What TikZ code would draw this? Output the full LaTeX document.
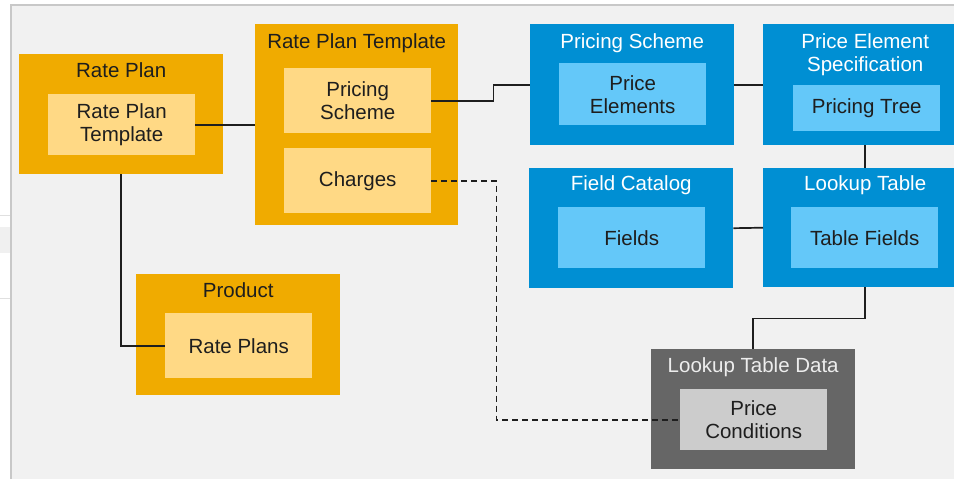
\documentclass[tikz,border=0pt]{standalone}
\usepackage{fontspec}
\setmainfont{Liberation Sans}
\usepackage{xcolor}

\definecolor{gold}{HTML}{F0AB00}
\definecolor{goldlight}{HTML}{FFD985}
\definecolor{sapblue}{HTML}{008FD3}
\definecolor{bluelight}{HTML}{64C8F9}
\definecolor{darkbox}{HTML}{666666}
\definecolor{greylight}{HTML}{CCCCCC}
\definecolor{panelgrey}{HTML}{F1F1F1}
\definecolor{framegrey}{HTML}{C8C8C8}
\definecolor{ink}{HTML}{1E1E1E}

\tikzset{
  outerbox/.style={anchor=north west, inner sep=0pt, minimum width=204pt, minimum height=120pt},
  innerbox/.style={anchor=north west, inner sep=0pt, minimum width=147pt, minimum height=61pt,
    align=center, text=ink},
  boxtitle/.style={anchor=base, inner sep=0pt, align=center},
  conn/.style={draw=ink, line width=1.7pt},
}

\begin{document}
\begin{tikzpicture}[x=1pt,y=-1pt,font=\fontsize{20.5}{23}\selectfont]
  \clip (0,0) rectangle (954,479);
  \fill[white] (0,0) rectangle (954,479);
  \fill[black!6] (0,227) rectangle (11,253);
  \draw[black!12, line width=1pt] (0,215) -- (11,215) (0,298) -- (11,298);
  \fill[panelgrey] (11,5) rectangle (954,479);
  \draw[framegrey, line width=1.5pt] (11,479) -- (11,5) -- (954,5);

  % rate plan side
  \node[outerbox, fill=gold] (rateplan) at (19,54) {};
  \node[boxtitle, text=ink] (rateplanT) at ([yshift=-23pt]rateplan.north) {Rate Plan};
  \node[innerbox, fill=goldlight] (rpTempl) at (48,94) {Rate Plan\\Template};

  \node[outerbox, fill=gold, minimum width=203pt, minimum height=201pt] (rptempl) at (255,24) {};
  \node[boxtitle, text=ink] (rptemplT) at ([yshift=-24pt]rptempl.north) {Rate Plan Template};
  \node[innerbox, fill=goldlight, minimum height=65pt] (pricingScheme) at (284,68) {Pricing\\Scheme};
  \node[innerbox, fill=goldlight, minimum height=65pt] (charges) at (284,148) {Charges};

  \node[outerbox, fill=gold, minimum height=121pt] (product) at (136,274) {};
  \node[boxtitle, text=ink] (productT) at ([yshift=-23pt]product.north) {Product};
  \node[innerbox, fill=goldlight, minimum height=65pt] (ratePlans) at (165,313) {Rate Plans};

  % pricing side
  \node[outerbox, fill=sapblue, minimum height=121pt] (pscheme) at (530,24) {};
  \node[boxtitle, text=white] (pschemeT) at ([yshift=-24pt]pscheme.north) {Pricing Scheme};
  \node[innerbox, fill=bluelight, minimum height=62pt] (priceElements) at (559,63) {Price\\Elements};

  \node[outerbox, fill=sapblue, minimum height=121pt] (pespec) at (763,24) {};
  \node[boxtitle, text=white] (pespecT) at ([yshift=-47pt]pespec.north) {Price Element\\Specification};
  \node[innerbox, fill=bluelight, minimum height=46pt] (pricingTree) at (793,85) {Pricing Tree};

  \node[outerbox, fill=sapblue] (fcat) at (529,168) {};
  \node[boxtitle, text=white] (fcatT) at ([yshift=-22pt]fcat.north) {Field Catalog};
  \node[innerbox, fill=bluelight] (fields) at (558,207) {Fields};

  \node[outerbox, fill=sapblue, minimum height=119pt] (ltable) at (763,168) {};
  \node[boxtitle, text=white] (ltableT) at ([yshift=-22pt]ltable.north) {Lookup Table};
  \node[innerbox, fill=bluelight] (tableFields) at (791,207) {Table Fields};

  \node[outerbox, fill=darkbox] (ltdata) at (651,349) {};
  \node[boxtitle, text=black!7] (ltdataT) at ([yshift=-23pt]ltdata.north) {Lookup Table Data};
  \node[innerbox, fill=greylight] (priceConditions) at (680,389) {Price\\Conditions};

  % links
  \draw[conn] (rpTempl.east) -- (rptempl.west |- rpTempl.east);
  \draw[conn] (rateplan.south) |- (ratePlans.west);
  \draw[conn] (pricingScheme.east) -- ++(62,0) |- (pscheme.west);
  \draw[conn] (pscheme.east) -- (pespec.west);
  \draw[conn] (pespec.south) -- (ltable.north);
  \draw[conn] (fcat.east) -- (ltable.west);
  \draw[conn] (ltable.south) -- ++(0,31) -| (ltdata.north);
  \draw[conn, dash pattern=on 6pt off 4pt] (charges.east) -- ++(65,0) |- (priceConditions.west);
\end{tikzpicture}
\end{document}
